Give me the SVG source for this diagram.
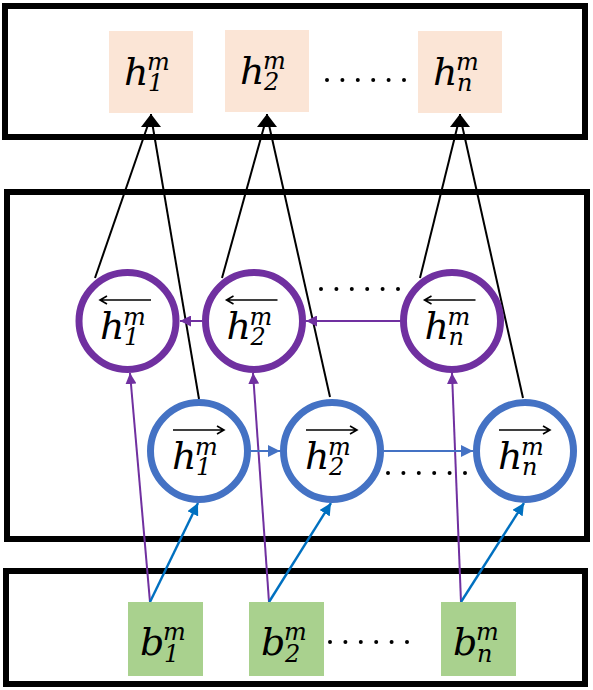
<svg xmlns="http://www.w3.org/2000/svg" width="593" height="690" viewBox="0 0 593 690">
<defs>
<style>
.frame{fill:none;stroke:#000;stroke-width:6}
.hbox{fill:#FBE5D6}
.bbox{fill:#A9D18E}
.pc{fill:#fff;stroke:#7030A0;stroke-width:7}
.bc{fill:#fff;stroke:#4472C4;stroke-width:7}
.lbl{font-family:'DejaVu Serif','Liberation Serif',serif;font-style:italic;fill:#000}
.big{font-size:38px}
.sm{font-size:24px}
.acc{fill:none;stroke:#000;stroke-width:1.6}
.kl{fill:none;stroke:#000;stroke-width:2}
.pl{fill:none;stroke:#7030A0;stroke-width:2}
.bl{fill:none;stroke:#4472C4;stroke-width:2}
.dl{fill:none;stroke:#0070C0;stroke-width:2.4}
.dots{fill:none;stroke:#000;stroke-width:4;stroke-linecap:round;stroke-dasharray:0 15.4}
</style>
<marker id="ahK" viewBox="0 0 13 20" refX="13" refY="10" markerWidth="13" markerHeight="20" markerUnits="userSpaceOnUse" orient="auto"><path d="M0,0 L13,10 L0,20 z" fill="#000"/></marker>
<marker id="ahP" viewBox="0 0 11 11" refX="11" refY="5.5" markerWidth="11" markerHeight="11" markerUnits="userSpaceOnUse" orient="auto"><path d="M0,0 L11,5.5 L0,11 z" fill="#7030A0"/></marker>
<marker id="ahB" viewBox="0 0 12 12" refX="12" refY="6" markerWidth="12" markerHeight="12" markerUnits="userSpaceOnUse" orient="auto"><path d="M0,0 L12,6 L0,12 z" fill="#4472C4"/></marker>
<marker id="ahD" viewBox="0 0 12 12" refX="12" refY="6" markerWidth="12" markerHeight="12" markerUnits="userSpaceOnUse" orient="auto"><path d="M0,0 L12,6 L0,12 z" fill="#0070C0"/></marker>
</defs>
<rect width="593" height="690" fill="#fff"/>

<g id="frames">
<rect id="frame-top" class="frame" x="5" y="6" width="580" height="131"/>
<rect id="frame-mid" class="frame" x="7" y="192" width="580" height="347"/>
<rect id="frame-bot" class="frame" x="6" y="571" width="579" height="113"/>
</g>

<g id="connectors">
<path class="kl" d="M95,278 L151,116"/>
<path class="kl" d="M199,399 L151,116"/>
<path class="kl" d="M151,126 L151,114" marker-end="url(#ahK)"/>
<path class="kl" d="M222,278 L267,116"/>
<path class="kl" d="M330,397 L267,116"/>
<path class="kl" d="M267,126 L267,114" marker-end="url(#ahK)"/>
<path class="kl" d="M420,278 L460,116"/>
<path class="kl" d="M523,398 L460,116"/>
<path class="kl" d="M460,126 L460,114" marker-end="url(#ahK)"/>

<path class="pl" d="M400,321 L306,321" marker-end="url(#ahP)"/>
<path class="pl" d="M202,321 L180,321" marker-end="url(#ahP)"/>
<path class="pl" d="M150,602 L130,373" marker-end="url(#ahP)"/>
<path class="pl" d="M269,602 L253,373" marker-end="url(#ahP)"/>
<path class="pl" d="M461,602 L452,373" marker-end="url(#ahP)"/>

<path class="bl" d="M251,451 L280,451" marker-end="url(#ahB)"/>
<path class="bl" d="M384,451 L473,451" marker-end="url(#ahB)"/>

<path class="dl" d="M150,602 L198,503" marker-end="url(#ahD)"/>
<path class="dl" d="M269,602 L331,503" marker-end="url(#ahD)"/>
<path class="dl" d="M461,602 L524,503" marker-end="url(#ahD)"/>
</g>

<g id="ellipses">
<path class="dots" d="M327,80 L404.5,80"/>
<path class="dots" d="M321,289 L398.5,289"/>
<path class="dots" d="M388,473 L465.5,473"/>
<path class="dots" d="M330,642 L407.5,642"/>
</g>

<g id="h1">
<rect class="hbox" x="109" y="31" width="84" height="82"/>
<text class="lbl"><tspan class="big" x="124" y="85">h</tspan><tspan class="sm" x="147" y="70">m</tspan><tspan class="sm" x="148" y="91">1</tspan></text>
</g>
<g id="h2">
<rect class="hbox" x="225" y="30" width="84" height="82"/>
<text class="lbl"><tspan class="big" x="240" y="84">h</tspan><tspan class="sm" x="263" y="69">m</tspan><tspan class="sm" x="264" y="90">2</tspan></text>
</g>
<g id="hn">
<rect class="hbox" x="418" y="31" width="84" height="82"/>
<text class="lbl"><tspan class="big" x="433" y="85">h</tspan><tspan class="sm" x="456" y="70">m</tspan><tspan class="sm" x="457" y="91">n</tspan></text>
</g>

<g id="back1">
<circle class="pc" cx="127.5" cy="321" r="48.5"/>
<path class="acc" d="M100,300 L151,300 M107,296 L100,300 L107,304"/>
<text class="lbl"><tspan class="big" x="100" y="339">h</tspan><tspan class="sm" x="123" y="325">m</tspan><tspan class="sm" x="124" y="345">1</tspan></text>
</g>
<g id="back2">
<circle class="pc" cx="254" cy="321" r="48.5"/>
<path class="acc" d="M226.5,300 L277.5,300 M233.5,296 L226.5,300 L233.5,304"/>
<text class="lbl"><tspan class="big" x="226.5" y="339">h</tspan><tspan class="sm" x="249.5" y="325">m</tspan><tspan class="sm" x="250.5" y="345">2</tspan></text>
</g>
<g id="backn">
<circle class="pc" cx="452" cy="321" r="48.5"/>
<path class="acc" d="M424.5,300 L475.5,300 M431.5,296 L424.5,300 L431.5,304"/>
<text class="lbl"><tspan class="big" x="424.5" y="339">h</tspan><tspan class="sm" x="447.5" y="325">m</tspan><tspan class="sm" x="448.5" y="345">n</tspan></text>
</g>

<g id="fwd1">
<circle class="bc" cx="199" cy="451" r="48.5"/>
<path class="acc" d="M173,430 L224,430 M217,426 L224,430 L217,434"/>
<text class="lbl"><tspan class="big" x="172" y="469">h</tspan><tspan class="sm" x="195" y="455">m</tspan><tspan class="sm" x="196" y="475">1</tspan></text>
</g>
<g id="fwd2">
<circle class="bc" cx="332" cy="451" r="48.5"/>
<path class="acc" d="M306,430 L357,430 M350,426 L357,430 L350,434"/>
<text class="lbl"><tspan class="big" x="305" y="469">h</tspan><tspan class="sm" x="328" y="455">m</tspan><tspan class="sm" x="329" y="475">2</tspan></text>
</g>
<g id="fwdn">
<circle class="bc" cx="525" cy="451" r="48.5"/>
<path class="acc" d="M499,430 L550,430 M543,426 L550,430 L543,434"/>
<text class="lbl"><tspan class="big" x="498" y="469">h</tspan><tspan class="sm" x="521" y="455">m</tspan><tspan class="sm" x="522" y="475">n</tspan></text>
</g>

<g id="b1">
<rect class="bbox" x="128" y="602" width="75" height="74"/>
<text class="lbl"><tspan class="big" x="140" y="655">b</tspan><tspan class="sm" x="163" y="640">m</tspan><tspan class="sm" x="164" y="662">1</tspan></text>
</g>
<g id="b2">
<rect class="bbox" x="249" y="602" width="75" height="74"/>
<text class="lbl"><tspan class="big" x="261" y="655">b</tspan><tspan class="sm" x="284" y="640">m</tspan><tspan class="sm" x="285" y="662">2</tspan></text>
</g>
<g id="bn">
<rect class="bbox" x="441" y="602" width="75" height="74"/>
<text class="lbl"><tspan class="big" x="453" y="655">b</tspan><tspan class="sm" x="476" y="640">m</tspan><tspan class="sm" x="477" y="662">n</tspan></text>
</g>
</svg>
